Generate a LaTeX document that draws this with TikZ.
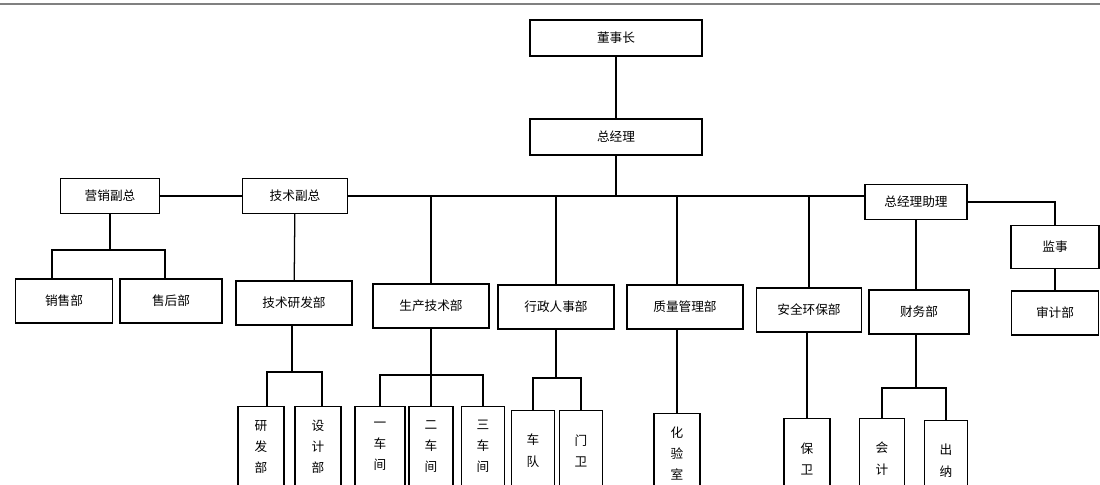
\documentclass[tikz,border=0pt]{standalone}
\usepackage{fontspec}
\newfontfamily\cjk{Noto Sans CJK SC}
\usepackage{tikz}

\begin{document}
\begin{tikzpicture}[
  x=0.025cm, y=-0.025cm,
  orgbox/.style={draw, line width=0.9pt, align=center, inner sep=1pt, font=\cjk\fontsize{9}{11}\selectfont},
  topbox/.style={orgbox, minimum width=4.3cm, minimum height=0.9cm},
  headbox/.style={orgbox, minimum width=2.55cm, minimum height=0.88cm},
  deptbox/.style={orgbox, minimum width=2.9cm, minimum height=1.1cm},
  unitbox/.style={orgbox, anchor=north, minimum width=1.15cm, minimum height=2.0cm, font=\cjk\fontsize{9}{15}\selectfont},
  link/.style={line width=0.9pt}
]
\useasboundingbox (0,0) rectangle (1100,485);
\draw[gray, line width=1.2pt] (0,4) -- (1100,4);

\node[topbox] (dsz) at (616,38) {董事长};
\node[topbox] (zjl) at (616,137) {总经理};

\node[headbox, minimum width=2.48cm] (yxfz) at (110,196) {营销副总};
\node[headbox, minimum width=2.63cm] (jsfz) at (295,196) {技术副总};
\node[headbox] (cwzj) at (916,202) {总经理助理};
\node[headbox, minimum width=2.2cm, minimum height=1.08cm] (jsh) at (1055,247) {监事};

\node[deptbox, minimum width=2.43cm] (xsb) at (64,301) {销售部};
\node[deptbox, minimum width=2.55cm] (shb) at (171,301) {售后部};
\node[deptbox] (jsyfb) at (294,303) {技术研发部};
\node[deptbox] (scjsb) at (431,306) {生产技术部};
\node[deptbox] (xzrsb) at (556,307) {行政人事部};
\node[deptbox] (zlglb) at (685,307) {质量管理部};
\node[deptbox, minimum width=2.63cm] (aqhbb) at (809,310) {安全环保部};
\node[deptbox, minimum width=2.5cm] (cwb) at (919,312) {财务部};
\node[deptbox, minimum width=2.18cm] (sjb) at (1055,313) {审计部};

\node[unitbox] (yfb) at (261,406) {研\\发\\部};
\node[unitbox] (sjib) at (318,406) {设\\计\\部};
\node[unitbox, minimum width=1.25cm] (yjc) at (380,406) {一\\车\\间};
\node[unitbox, minimum width=1.1cm] (ejc) at (431,406) {二\\车\\间};
\node[unitbox, minimum width=1.08cm] (sjc) at (483,406) {三\\车\\间};
\node[unitbox, minimum width=1.08cm] (cd) at (533,410) {车\\队};
\node[unitbox, minimum width=1.08cm] (mw) at (581,410) {门\\卫};
\node[unitbox] (hys) at (677,413) {化\\验\\室};
\node[unitbox] (bw) at (807,418) {保\\卫};
\node[unitbox, minimum width=1.12cm] (kj) at (882,418) {会\\计};
\node[unitbox, minimum width=1.08cm] (cn) at (946,420) {出\\纳};

\coordinate (yxfork) at (110,250);
\coordinate (jsfork) at (292,372);
\coordinate (scfork) at (431,375);
\coordinate (xzfork) at (556,378);
\coordinate (cwfork) at (916,388);

\draw[link] (dsz) -- (zjl);
\draw[link] (zjl.south) -- (zjl.south |- jsfz.east);
\draw[link] (yxfz) -- (jsfz);
\draw[link] (jsfz.east) -- (jsfz.east -| cwzj.west);
\draw[link] (cwzj.east) -| (jsh.north);
\draw[link] (jsh) -- (sjb);

\draw[link] (jsfz) -- (jsyfb);
\draw[link] (scjsb.north |- jsfz.east) -- (scjsb.north);
\draw[link] (xzrsb.north |- jsfz.east) -- (xzrsb.north);
\draw[link] (hys.north |- jsfz.east) -- (hys.north |- zlglb.north);
\draw[link] (aqhbb.north |- jsfz.east) -- (aqhbb.north);
\draw[link] (cwzj.south) -- (cwzj.south |- cwb.north);

\draw[link] (yxfz.south) -- (yxfork);
\draw[link] ([xshift=-0.3cm]xsb.north) |- (yxfork) -| ([xshift=-0.15cm]shb.north);
\draw[link] (jsyfb.south -| jsfork) -- (jsfork);
\draw[link] ([xshift=0.15cm]yfb.north) |- (jsfork) -| ([xshift=0.1cm]sjib.north);
\draw[link] (scjsb.south) -- (ejc.north);
\draw[link] (yjc.north) |- (scfork) -| (sjc.north);
\draw[link] (xzrsb.south) -- (xzfork);
\draw[link] (cd.north) |- (xzfork) -| (mw.north);
\draw[link] (hys.north |- zlglb.south) -- (hys.north);
\draw[link] (bw.north |- aqhbb.south) -- (bw.north);
\draw[link] (cwzj.south |- cwb.south) -- (cwfork);
\draw[link] (kj.north) |- (cwfork) -| (cn.north);
\end{tikzpicture}
\end{document}
